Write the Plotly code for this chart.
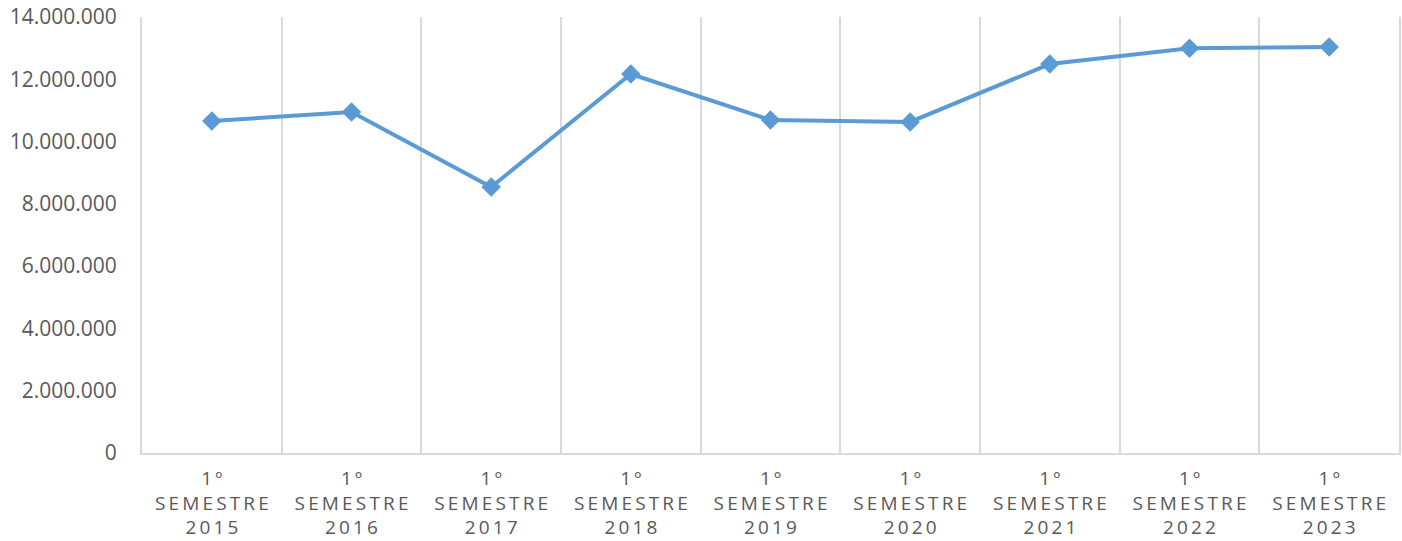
import plotly.graph_objects as go

# Dados (1º semestre de cada ano)
anos = ["2015", "2016", "2017", "2018", "2019", "2020", "2021", "2022", "2023"]
valores = [10660000, 10950000, 8540000, 12170000, 10690000, 10630000, 12490000, 13000000, 13040000]
y_ticks = [0, 2000000, 4000000, 6000000, 8000000, 10000000, 12000000, 14000000]

LINE_COLOR = "#5B9BD5"
TEXT_COLOR = "#595959"
GRID_COLOR = "#D9D9D9"


def espacado(txt):
    # simula o espaçamento entre letras dos rótulos do Excel (thin space)
    return "\u2009".join(txt)


rotulos = [f"{espacado('1º')}<br>{espacado('SEMESTRE')}<br>{espacado(a)}" for a in anos]

fig = go.Figure(
    go.Scatter(
        x=rotulos,
        y=valores,
        mode="lines+markers",
        line=dict(color=LINE_COLOR, width=4),
        marker=dict(symbol="diamond", size=15, color=LINE_COLOR),
        showlegend=False,
    )
)

fig.update_layout(
    width=1402,
    height=541,
    margin=dict(l=142, r=3, t=17, b=88),
    plot_bgcolor="white",
    paper_bgcolor="white",
    separators=",.",
    font=dict(family="Open Sans", color=TEXT_COLOR),
)

fig.update_xaxes(
    type="category",
    tickson="boundaries",
    automargin=False,
    showgrid=True,
    gridcolor=GRID_COLOR,
    gridwidth=2,
    showline=True,
    linecolor=GRID_COLOR,
    linewidth=2,
    ticks="",
    ticklabelstandoff=7,
    tickfont=dict(size=19, color=TEXT_COLOR),
    range=[-0.5, 8.5],
)

fig.update_yaxes(
    range=[0, 14000000],
    tickvals=y_ticks,
    tickformat=",.0f",
    automargin=False,
    showgrid=False,
    zeroline=False,
    showline=True,
    mirror=True,
    linecolor=GRID_COLOR,
    linewidth=2,
    ticks="",
    ticklabelstandoff=19,
    ticklabeloverflow="allow",
    tickfont=dict(size=21, color=TEXT_COLOR),
)

# tira a margem padrão do body para a figura ocupar a janela inteira
fig.write_html(
    "out.html",
    config={"displayModeBar": False},
    post_script="document.body.style.margin='0'; document.body.style.overflow='hidden';",
)
